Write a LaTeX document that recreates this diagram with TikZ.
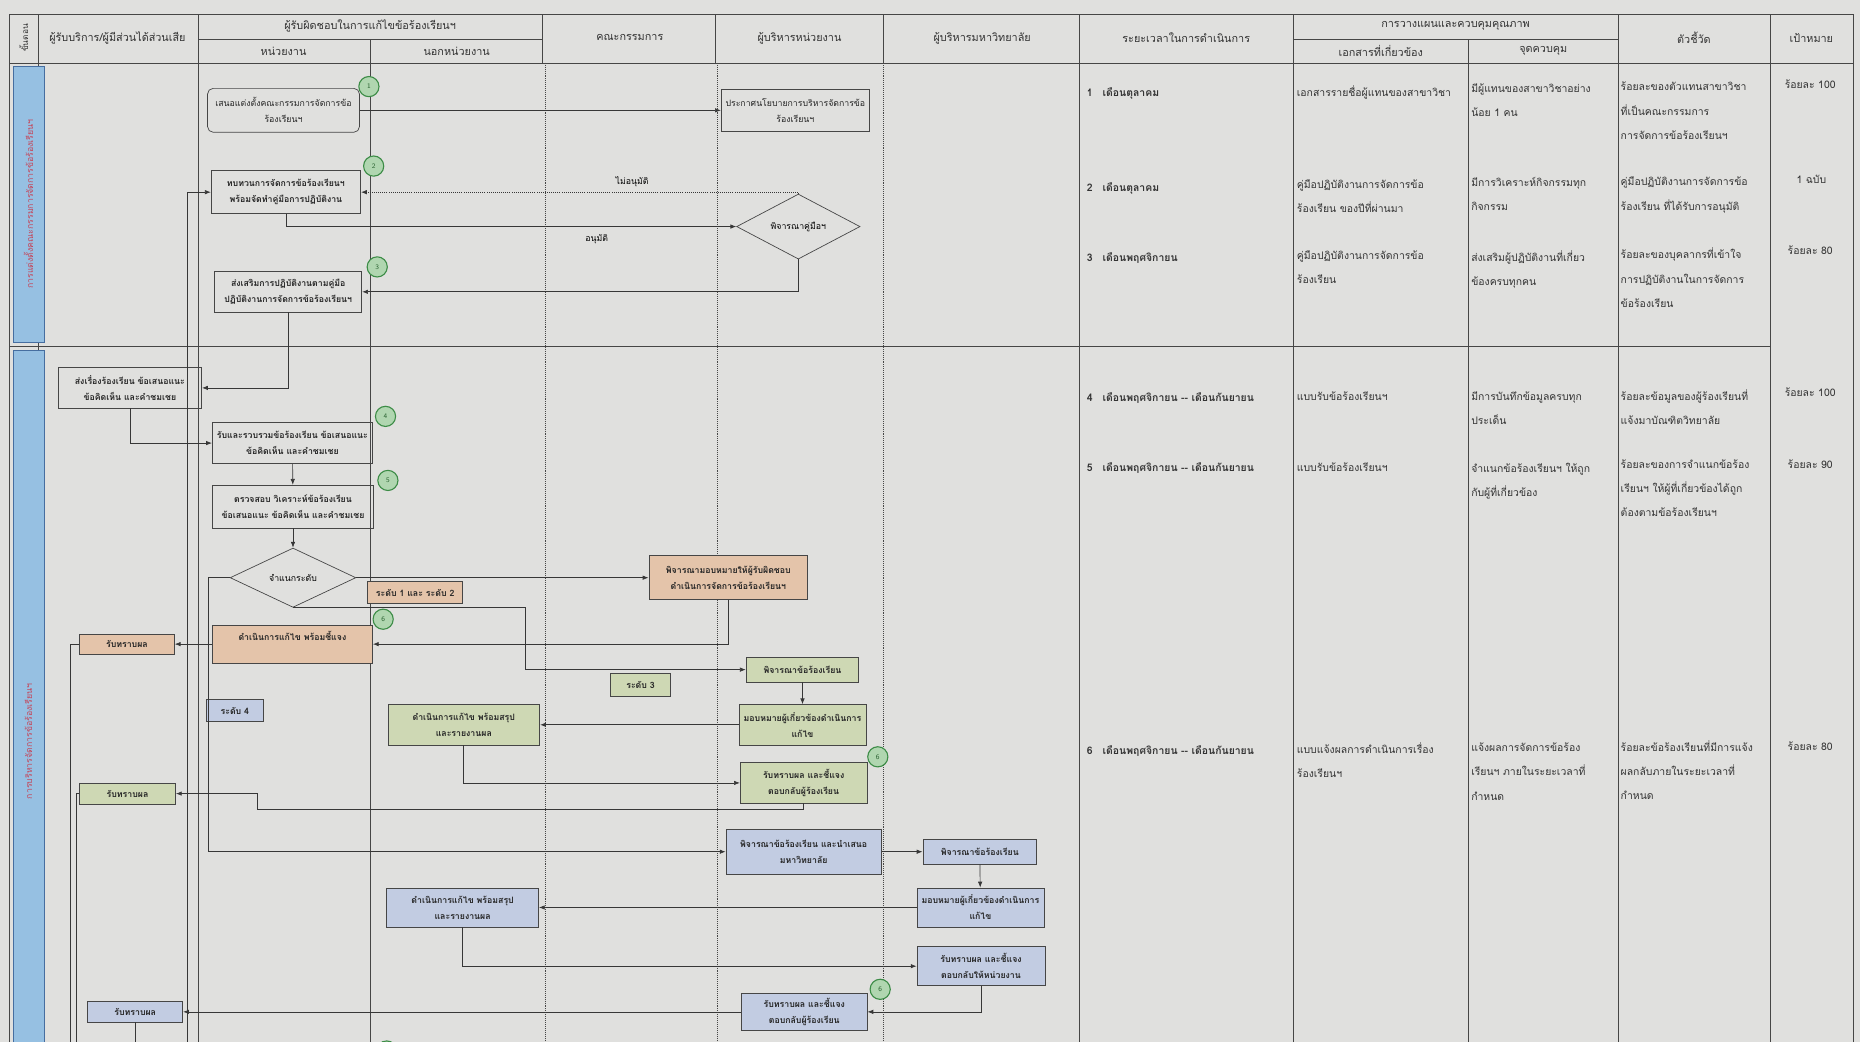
\documentclass[tikz,border=0pt]{standalone}
\usepackage{fontspec}
\newfontfamily\thaifont[Script=Thai]{Loma}
\usetikzlibrary{arrows.meta,shapes.geometric}

\definecolor{paper}{RGB}{224,224,222}
\definecolor{ruleline}{RGB}{70,70,70}
\definecolor{flowline}{RGB}{55,55,55}
\definecolor{laneblue}{RGB}{150,192,226}
\definecolor{laneedge}{RGB}{70,110,160}
\definecolor{lanetext}{RGB}{196,70,90}
\definecolor{tanfill}{RGB}{228,196,170}
\definecolor{greenfill}{RGB}{206,216,180}
\definecolor{bluefill}{RGB}{194,204,226}
\definecolor{stepfill}{RGB}{176,214,176}
\definecolor{stepedge}{RGB}{60,140,70}

\def\pxu{0.3mm}
\tikzset{
  every picture/.style={
    line width=0.5pt,
    >={Latex[width=3.2pt, length=4.2pt]}
  },
  thai/.style={font=\thaifont\fontsize{6.3}{11.5}\selectfont},
  proc/.style={
    thai, draw=ruleline, rectangle, align=center,
    inner sep=0pt, text=black!85
  },
  boldproc/.style={
    proc, font=\thaifont\bfseries\fontsize{6.3}{11.5}\selectfont
  },
  decide/.style={
    thai, draw=ruleline, diamond, inner sep=0pt, fill=paper
  },
  level/.style={boldproc, line width=0.8pt},
  stepno/.style={
    circle, draw=stepedge, fill=stepfill, line width=0.8pt,
    minimum size=17*\pxu, inner sep=0pt,
    font=\sffamily\fontsize{5}{5}\selectfont, text=stepedge!70!black
  },
  cell/.style={
    align=left, anchor=north west, inner sep=0pt, text=black!80,
    font=\thaifont\fontsize{7.5}{17.5}\selectfont
  },
  timecell/.style={
    cell, font=\thaifont\bfseries\fontsize{7.5}{17.5}\selectfont
  },
  goal/.style={cell, anchor=north},
  head/.style={
    align=center, inner sep=0pt, text=black!80,
    font=\thaifont\fontsize{7.8}{10}\selectfont
  },
  flow/.style={draw=flowline, ->},
  lane/.style={draw=ruleline, line width=0.4pt},
  softlane/.style={draw=ruleline, line width=0.4pt, densely dotted}
}

\begin{document}
\begin{tikzpicture}[x=0.3mm, y=-0.3mm]
  \fill[paper] (0,0) rectangle (1568,878);
  \useasboundingbox (0,0) rectangle (1568,878);

  % table frame
  \draw[lane] (8,12) rectangle (1562,53);
  \foreach \cx in {32,167,457,603,745,910,1090,1364,1492}
    \draw[lane] (\cx,12) -- (\cx,53);
  \draw[lane] (312,33) -- (312,53);
  \draw[lane] (1238,33) -- (1238,53);
  \draw[lane] (167,33) -- (457,33);
  \draw[lane] (1090,33) -- (1364,33);
  \foreach \cx in {8,32,167,312,910,1090,1238,1364,1492,1562}
    \draw[lane] (\cx,53) -- (\cx,878);
  \foreach \cx in {460,605,745}
    \draw[softlane] (\cx,53) -- (\cx,878);
  \draw[lane] (8,292) -- (1492,292);

  \fill[laneblue, draw=laneedge] (11,56) rectangle (37,289);
  \fill[laneblue, draw=laneedge] (11,295) rectangle (37,880);
  \node[thai, rotate=90, text=lanetext] (lanea) at (24,172) {การแต่งตั้งคณะกรรมการจัดการข้อร้องเรียนฯ};
  \node[thai, rotate=90, text=lanetext] (laneb) at (24,625) {การบริหารจัดการข้อร้องเรียนฯ};

  % header
  \node[head, rotate=90, font=\thaifont\fontsize{6}{7}\selectfont] (hstep) at (20,32) {ขั้นตอน};
  \node[head] (hcust) at (99,32) {ผู้รับบริการ/ผู้มีส่วนได้ส่วนเสีย};
  \node[head] (hresp) at (312,22) {ผู้รับผิดชอบในการแก้ไขข้อร้องเรียนฯ};
  \node[head] (hunit) at (239,43) {หน่วยงาน};
  \node[head] (hout) at (385,43) {นอกหน่วยงาน};
  \node[head] (hcomm) at (531,32) {คณะกรรมการ};
  \node[head] (hexec) at (674,32) {ผู้บริหารหน่วยงาน};
  \node[head] (huniv) at (828,32) {ผู้บริหารมหาวิทยาลัย};
  \node[head] (htime) at (1000,32) {ระยะเวลาในการดำเนินการ};
  \node[head] (hplan) at (1227,22) {การวางแผนและควบคุมคุณภาพ};
  \node[head] (hdoc) at (1164,43) {เอกสารที่เกี่ยวข้อง};
  \node[head] (hctrl) at (1301,43) {จุดควบคุม};
  \node[head] (hind) at (1428,32) {ตัวชี้วัด};
  \node[head] (hgoal) at (1527,32) {เป้าหมาย};

  % lane 1
  \node[proc, rounded corners=4pt, minimum width=128*\pxu, minimum height=37*\pxu] (prop) at (239,93) {เสนอแต่งตั้งคณะกรรมการจัดการข้อ\\ร้องเรียนฯ};
  \node[proc, minimum width=125*\pxu, minimum height=36*\pxu] (annc) at (670.5,93) {ประกาศนโยบายการบริหารจัดการข้อ\\ร้องเรียนฯ};
  \node[boldproc, minimum width=126*\pxu, minimum height=36*\pxu] (rev) at (241,162) {ทบทวนการจัดการข้อร้องเรียนฯ\\พร้อมจัดทำคู่มือการปฏิบัติงาน};
  \node[decide, minimum width=104*\pxu, minimum height=52*\pxu] (chk) at (673,191) {พิจารณาคู่มือฯ};
  \node[boldproc, minimum width=124*\pxu, minimum height=34*\pxu] (prom) at (243,246) {ส่งเสริมการปฏิบัติงานตามคู่มือ\\ปฏิบัติงานการจัดการข้อร้องเรียนฯ};
  \node[stepno] (s1) at (311,73) {1};
  \node[stepno] (s2) at (315,140) {2};
  \node[stepno] (s3) at (318,225) {3};

  \draw[flow] (prop.east) -- (annc.west);
  \draw[flow] (rev.south) |- (chk.west) node[pos=0.845, below=2pt, thai] {อนุมัติ};
  \draw[flow, densely dotted] (chk.north) |- (rev.east) node[pos=0.69, above=0pt, thai] {ไม่อนุมัติ};
  \draw[flow] (chk.south) |- (prom.east);

  % lane 2
  \node[boldproc, minimum width=121*\pxu, minimum height=34*\pxu] (send) at (109.5,327) {ส่งเรื่องร้องเรียน ข้อเสนอแนะ\\ข้อคิดเห็น และคำชมเชย};
  \node[boldproc, minimum width=135*\pxu, minimum height=35*\pxu] (recv) at (246.5,373.5) {รับและรวบรวมข้อร้องเรียน ข้อเสนอแนะ\\ข้อคิดเห็น และคำชมเชย};
  \node[boldproc, minimum width=136*\pxu, minimum height=36*\pxu] (anal) at (247,427) {ตรวจสอบ วิเคราะห์ข้อร้องเรียน\\ข้อเสนอแนะ ข้อคิดเห็น และคำชมเชย};
  \node[decide, minimum width=106*\pxu, minimum height=50*\pxu] (cls) at (247,487) {จำแนกระดับ};
  \node[level, fill=tanfill, minimum width=80*\pxu, minimum height=19*\pxu] (lvA) at (350,499.5) {ระดับ 1 และ ระดับ 2};
  \node[boldproc, fill=tanfill, minimum width=134*\pxu, minimum height=37*\pxu] (asgn) at (614,487) {พิจารณามอบหมายให้ผู้รับผิดชอบ\\ดำเนินการจัดการข้อร้องเรียนฯ};
  \node[boldproc, fill=tanfill, minimum width=135*\pxu, minimum height=32*\pxu] (fixA) at (246.5,543) {ดำเนินการแก้ไข พร้อมชี้แจง\\\mbox{}};
  \node[boldproc, fill=tanfill, minimum width=80*\pxu, minimum height=17*\pxu] (ackA) at (107,543) {รับทราบผล};
  \node[stepno] (s4) at (325,351) {4};
  \node[stepno] (s5) at (327,405) {5};
  \node[stepno] (s6a) at (323,522) {6};

  \node[level, fill=greenfill, minimum width=50*\pxu, minimum height=19*\pxu] (lvB) at (540,577.5) {ระดับ 3};
  \node[boldproc, fill=greenfill, minimum width=95*\pxu, minimum height=21*\pxu] (cnsB) at (676.5,564.5) {พิจารณาข้อร้องเรียน};
  \node[boldproc, fill=greenfill, minimum width=107*\pxu, minimum height=34*\pxu] (asgB) at (676.5,611) {มอบหมายผู้เกี่ยวข้องดำเนินการ\\แก้ไข};
  \node[boldproc, fill=greenfill, minimum width=128*\pxu, minimum height=34*\pxu] (fixB) at (391,611) {ดำเนินการแก้ไข พร้อมสรุป\\และรายงานผล};
  \node[boldproc, fill=greenfill, minimum width=107*\pxu, minimum height=34*\pxu] (repB) at (677.5,660) {รับทราบผล และชี้แจง\\ตอบกลับผู้ร้องเรียน};
  \node[boldproc, fill=greenfill, minimum width=81*\pxu, minimum height=18*\pxu] (ackB) at (107.5,669) {รับทราบผล};
  \node[stepno] (s6b) at (740,638) {6};

  \node[level, fill=bluefill, minimum width=48*\pxu, minimum height=18*\pxu] (lvC) at (198,599) {ระดับ 4};
  \node[boldproc, fill=bluefill, minimum width=131*\pxu, minimum height=38*\pxu] (cnsC) at (677.5,718) {พิจารณาข้อร้องเรียน และนำเสนอ\\มหาวิทยาลัย};
  \node[boldproc, fill=bluefill, minimum width=96*\pxu, minimum height=21*\pxu] (univC) at (826,718) {พิจารณาข้อร้องเรียน};
  \node[boldproc, fill=bluefill, minimum width=107*\pxu, minimum height=33*\pxu] (asgC) at (826.5,765) {มอบหมายผู้เกี่ยวข้องดำเนินการ\\แก้ไข};
  \node[boldproc, fill=bluefill, minimum width=128*\pxu, minimum height=33*\pxu] (fixC) at (390,765) {ดำเนินการแก้ไข พร้อมสรุป\\และรายงานผล};
  \node[boldproc, fill=bluefill, minimum width=108*\pxu, minimum height=33*\pxu] (urepC) at (827,814.5) {รับทราบผล และชี้แจง\\ตอบกลับให้หน่วยงาน};
  \node[boldproc, fill=bluefill, minimum width=106*\pxu, minimum height=32*\pxu] (repC) at (678,853) {รับทราบผล และชี้แจง\\ตอบกลับผู้ร้องเรียน};
  \node[boldproc, fill=bluefill, minimum width=80*\pxu, minimum height=17*\pxu] (ackC) at (114,853) {รับทราบผล};
  \node[stepno] (s6c) at (742,834) {6};
  \node[stepno] (s7) at (326,886) {};

  \coordinate (lvCturn) at (176,718);
  \coordinate (lvBturn) at (443,564.5);
  \coordinate (ackBturn) at (217,682);
  \coordinate (revfoot) at (158,878);
  \coordinate (ackAfoot) at (59,878);
  \coordinate (ackBfoot) at (64,878);

  \draw[flow] (prom.south) |- (send.east);
  \draw[flow] (send.south) |- (recv.west);
  \draw[flow] (recv) -- (anal);
  \draw[flow] (anal) -- (cls);
  \draw[flow] (cls.east) -- (asgn.west);
  \draw[flow] (cls.west) -| (lvCturn) -- (cnsC.west);
  \draw[flow] (cls.south) -| (lvBturn) -- (cnsB.west);
  \draw[flow] (asgn.south) |- (fixA.east);
  \draw[flow] (fixA.west) -- (ackA.east);
  \draw[flow] (cnsB) -- (asgB);
  \draw[flow] (asgB.west) -- (fixB.east);
  \draw[flow] (fixB.south) |- (repB.west);
  \draw[flow] (repB.south) |- (ackBturn) |- (ackB.east);
  \draw[flow] (cnsC.east) -- (univC.west);
  \draw[flow] (univC) -- (asgC);
  \draw[flow] (asgC.west) -- (fixC.east);
  \draw[flow] (fixC.south) |- (urepC.west);
  \draw[flow] (urepC.south) |- (repC.east);
  \draw[flow] (repC.west) -- (ackC.east);
  \draw[flow] (revfoot) |- (rev.west);
  \draw[draw=flowline] (ackA.west) -| (ackAfoot);
  \draw[draw=flowline] (ackB.west) -| (ackBfoot);
  \draw[draw=flowline] (ackC.south) -- (ackC.south |- revfoot);

  % plan table
  \node[timecell] (t1) at (916,74) {1\hspace{2.5mm}เดือนตุลาคม};
  \node[cell] (d1) at (1093,72) {เอกสารรายชื่อผู้แทนของสาขาวิชา};
  \node[cell] (k1) at (1240,70) {มีผู้แทนของสาขาวิชาอย่าง\\น้อย 1 คน};
  \node[cell] (i1) at (1366,69) {ร้อยละของตัวแทนสาขาวิชา\\ที่เป็นคณะกรรมการ\\การจัดการข้อร้องเรียนฯ};
  \node[goal] (g1) at (1526,67) {ร้อยละ 100};

  \node[timecell] (t2) at (916,154) {2\hspace{2.5mm}เดือนตุลาคม};
  \node[cell] (d2) at (1093,151) {คู่มือปฏิบัติงานการจัดการข้อ\\ร้องเรียน ของปีที่ผ่านมา};
  \node[cell] (k2) at (1240,149) {มีการวิเคราะห์กิจกรรมทุก\\กิจกรรม};
  \node[cell] (i2) at (1366,149) {คู่มือปฏิบัติงานการจัดการข้อ\\ร้องเรียน ที่ได้รับการอนุมัติ};
  \node[goal] (g2) at (1527,147) {1 ฉบับ};

  \node[timecell] (t3) at (916,213) {3\hspace{2.5mm}เดือนพฤศจิกายน};
  \node[cell] (d3) at (1093,211) {คู่มือปฏิบัติงานการจัดการข้อ\\ร้องเรียน};
  \node[cell] (k3) at (1240,211) {ส่งเสริมผู้ปฏิบัติงานที่เกี่ยว\\ข้องครบทุกคน};
  \node[cell] (i3) at (1366,209) {ร้อยละของบุคลากรที่เข้าใจ\\การปฏิบัติงานในการจัดการ\\ข้อร้องเรียน};
  \node[goal] (g3) at (1526,207) {ร้อยละ 80};

  \node[timecell] (t4) at (916,331) {4\hspace{2.5mm}เดือนพฤศจิกายน -- เดือนกันยายน};
  \node[cell] (d4) at (1093,330) {แบบรับข้อร้องเรียนฯ};
  \node[cell] (k4) at (1240,330) {มีการบันทึกข้อมูลครบทุก\\ประเด็น};
  \node[cell] (i4) at (1366,328) {ร้อยละข้อมูลของผู้ร้องเรียนที่\\แจ้งมาบัณฑิตวิทยาลัย};
  \node[goal] (g4) at (1526,327) {ร้อยละ 100};

  \node[timecell] (t5) at (916,390) {5\hspace{2.5mm}เดือนพฤศจิกายน -- เดือนกันยายน};
  \node[cell] (d5) at (1093,390) {แบบรับข้อร้องเรียนฯ};
  \node[cell] (k5) at (1240,390) {จำแนกข้อร้องเรียนฯ ให้ถูก\\กับผู้ที่เกี่ยวข้อง};
  \node[cell] (i5) at (1366,387) {ร้อยละของการจำแนกข้อร้อง\\เรียนฯ ให้ผู้ที่เกี่ยวข้องได้ถูก\\ต้องตามข้อร้องเรียนฯ};
  \node[goal] (g5) at (1526,387) {ร้อยละ 90};

  \node[timecell] (t6) at (916,628) {6\hspace{2.5mm}เดือนพฤศจิกายน -- เดือนกันยายน};
  \node[cell] (d6) at (1093,626) {แบบแจ้งผลการดำเนินการเรื่อง\\ร้องเรียนฯ};
  \node[cell] (k6) at (1240,626) {แจ้งผลการจัดการข้อร้อง\\เรียนฯ ภายในระยะเวลาที่\\กำหนด};
  \node[cell] (i6) at (1366,624) {ร้อยละข้อร้องเรียนที่มีการแจ้ง\\ผลกลับภายในระยะเวลาที่\\กำหนด};
  \node[goal] (g6) at (1526,625) {ร้อยละ 80};
\end{tikzpicture}
\end{document}
